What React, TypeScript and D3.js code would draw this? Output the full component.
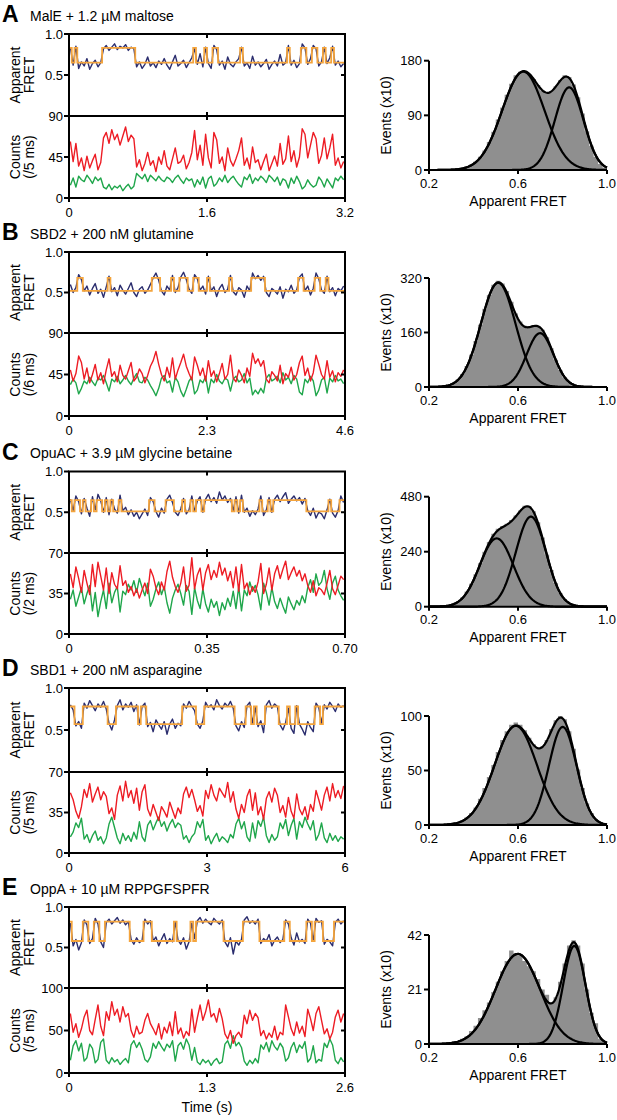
import React from 'react';
import * as d3 from 'd3';

const FONT = '"Liberation Sans", Arial, Helvetica, sans-serif';

// ---------- labels / ticks ----------
const letters = ['A', 'B', 'C', 'D', 'E'];
const titles = [
  'MalE + 1.2 µM maltose',
  'SBD2 + 200 nM glutamine',
  'OpuAC + 3.9 µM glycine betaine',
  'SBD1 + 200 nM asparagine',
  'OppA + 10 µM RPPGFSPFR',
];
const timeMax = [3.2, 4.6, 0.7, 6, 2.6];
const timeTickVals = [[0, 1.6, 3.2], [0, 2.3, 4.6], [0, 0.35, 0.7], [0, 3, 6], [0, 1.3, 2.6]];
const timeTickLabels = [['0', '1.6', '3.2'], ['0', '2.3', '4.6'], ['0', '0.35', '0.70'], ['0', '3', '6'], ['0', '1.3', '2.6']];
const fretTickVals = [0.5, 1.0];
const fretTickLabels = ['0.5', '1.0'];
const countTickVals = [[0, 45, 90], [0, 45, 90], [0, 35, 70], [0, 35, 70], [0, 50, 100]];
const countUnits = ['(/5 ms)', '(/6 ms)', '(/2 ms)', '(/5 ms)', '(/5 ms)'];
const histTickVals = [[0, 90, 180], [0, 160, 320], [0, 240, 480], [0, 50, 100], [0, 21, 42]];
const histXTicks = [0.2, 0.6, 1.0];
const histXLabels = ['0.2', '0.6', '1.0'];

// ---------- Panel A (MalE) ----------
const fretA = [84,62,85,58,66,61,70,57,64,68, 60,65,82,86,80,84,88,81,85,83, 87,80,84,82,60,66,58,63,72,61, 65,59,67,63,70,62,57,66,74,61, 64,68,59,65,71,82,63,76,60,84, 64,58,86,81,62,67,57,72,63,60, 66,70,84,61,65,58,73,62,66,60, 64,69,57,63,67,61,75,62,65,86, 62,68,59,64,88,83,63,70,86,82, 61,66,84,64,71,85,62,67,60,64];
const redA = [62,40,60,35,44,30,46,33,41,48, 31,39,66,72,60,75,64,70,58,68, 78,62,69,65,34,42,30,38,50,36, 41,29,45,37,52,35,31,43,55,38, 40,47,32,39,50,74,42,58,36,70, 44,33,72,64,38,45,30,55,41,35, 43,52,66,36,44,32,56,39,42,31, 40,48,30,38,46,35,60,37,43,68, 40,52,34,45,76,70,44,58,72,65, 38,47,66,43,55,70,36,44,33,40];
const greenA = [14,22,12,24,20,18,25,21,16,23, 19,22,12,10,15,9,13,11,14,8, 12,15,10,13,27,24,21,26,18,25, 22,19,24,20,18,23,21,17,22,25, 20,16,22,19,21,12,20,15,23,11, 21,24,13,16,22,18,25,17,21,24, 19,15,12,23,20,26,16,22,19,24, 21,17,25,22,18,23,14,21,19,11, 22,16,24,18,10,13,20,15,12,14, 23,19,12,21,16,11,22,19,24,20];
const fitTA = [0, 0.032, 0.064, 0.096, 0.384, 0.768, 1.44, 1.472, 1.568, 1.6, 1.664, 1.728, 1.984, 2.016, 2.528, 2.56, 2.688, 2.752, 2.816, 2.88, 2.944, 2.976, 3.04, 3.072];
const fitVA = [83,65,83,65,83,65,83,65,83,65,83,65,83,65,83,65,83,65,83,65,83,65,83,65];
const histA = [0,0,0,0,0,1,2,3,5,9,14,22,32,46,63,83,103,124,142,156,162,163,158,150,140,131,126,130,138,148,156,153,141,120,93,64,40,22,10,4];
const gAmpA = [162, 136];
const gMuA = [0.624, 0.83];
const gSdA = [0.095, 0.064];

// ---------- Panel B (SBD2) ----------
const fretB = [60,50,56,72,66,52,58,47,55,61, 49,54,44,57,70,51,56,46,59,53, 48,55,62,50,45,54,57,49,53,60, 68,74,65,52,47,58,53,71,50,56, 69,75,66,54,49,72,67,53,58,48, 70,52,57,45,55,60,50,54,71,51, 47,56,53,44,58,52,74,67,71,65, 70,50,45,55,52,48,57,43,54,51, 59,49,53,69,73,52,58,47,55,74, 67,53,49,70,51,56,46,55,52,58];
const redB = [50,38,46,65,58,40,52,36,45,56, 39,47,35,50,62,43,48,37,55,44, 40,49,58,38,42,51,46,36,44,54, 60,70,56,45,38,53,42,63,40,50, 58,67,54,46,39,64,55,44,52,38, 60,43,49,37,46,57,40,45,66,41, 37,50,44,36,52,43,68,57,62,54, 60,40,36,48,44,38,55,35,46,42, 53,39,45,58,65,44,52,38,47,66, 56,45,40,60,42,49,37,47,43,50];
const greenB = [34,40,36,24,30,38,35,42,37,33, 41,39,44,36,27,40,37,43,35,39, 44,38,34,41,46,37,36,42,39,33, 28,22,30,41,44,36,38,26,42,37, 27,21,29,38,42,24,28,39,36,43, 25,40,36,45,38,35,41,39,27,40, 43,37,39,46,36,41,23,28,24,30, 25,41,45,38,40,43,36,47,39,42, 35,44,40,26,23,40,36,43,38,22, 28,39,42,25,41,37,44,38,40,35];
const fitTB = [0, 0.138, 0.23, 0.644, 0.69, 1.38, 1.518, 1.702, 1.748, 1.84, 1.978, 2.07, 2.162, 2.3, 2.346, 2.668, 2.714, 3.036, 3.266, 3.818, 3.91, 4.094, 4.186, 4.278, 4.324];
const fitVB = [52,68,52,68,52,68,52,68,52,68,52,68,52,68,52,68,52,68,52,68,52,68,52,68,52];
const histB = [0,1,1,3,6,12,22,38,62,95,135,183,230,270,300,312,304,282,250,216,192,180,178,181,179,168,146,114,80,50,28,14,6,3,1,0,0,0,0,0];
const gAmpB = [306, 158];
const gMuB = [0.511, 0.699];
const gSdB = [0.078, 0.06];

// ---------- Panel C (OpuAC) ----------
const fretC = [66,52,70,63,48,67,55,45,69,53, 72,64,50,68,47,66,54,49,71,52, 56,47,53,45,50,42,48,54,46,68, 63,51,44,55,49,66,71,62,50,46, 54,67,48,53,70,51,64,69,50,66, 72,63,68,61,75,65,70,62,67,52, 69,49,71,50,55,45,52,47,54,70, 46,53,68,50,66,71,63,69,74,61, 66,70,64,68,60,67,52,46,55,43, 50,48,42,53,66,49,44,52,70,62];
const redC = [52,40,58,48,36,55,44,34,60,41, 62,50,38,57,35,53,43,39,59,42, 46,36,41,33,39,31,38,44,35,56, 50,40,34,45,38,54,63,49,41,36, 44,58,37,42,66,39,51,57,38,53, 60,47,55,49,62,51,57,46,54,40, 58,37,60,39,44,34,41,36,45,61, 35,43,57,38,52,59,48,56,63,47, 53,58,50,55,46,52,42,36,46,33, 40,38,34,44,55,39,34,42,50,47];
const greenC = [30,38,24,32,40,26,35,42,20,36, 15,28,38,22,44,27,36,41,19,37, 34,43,38,46,36,48,40,33,44,24, 30,39,45,34,41,27,18,31,38,43, 35,25,42,37,17,40,29,22,39,26, 19,30,23,28,16,27,21,31,24,37, 22,41,20,38,33,45,37,42,34,21, 44,36,25,40,28,22,31,24,18,32, 26,21,29,25,33,27,40,47,36,52, 42,45,55,39,30,44,50,38,33,29];
const fitTC = [0, 0.007, 0.014, 0.028, 0.035, 0.042, 0.056, 0.063, 0.07, 0.084, 0.091, 0.098, 0.105, 0.112, 0.126, 0.133, 0.203, 0.217, 0.245, 0.266, 0.287, 0.294, 0.308, 0.315, 0.322, 0.336, 0.343, 0.413, 0.42, 0.427, 0.434, 0.441, 0.483, 0.49, 0.504, 0.511, 0.518, 0.602, 0.658, 0.665, 0.686];
const fitVC = [65,51,65,51,65,51,65,51,65,51,65,51,65,51,65,51,65,51,65,51,65,51,65,51,65,51,65,51,65,51,65,51,65,51,65,51,65,51,65,51,65];
const histC = [0,0,1,2,5,12,23,40,66,100,142,190,240,282,318,340,352,362,378,398,420,440,438,416,368,302,228,160,103,60,33,16,7,3,1,0,0,0,0,0];
const gAmpC = [298, 393];
const gMuC = [0.504, 0.658];
const gSdC = [0.0755, 0.0678];

// ---------- Panel D (SBD1) ----------
const fretD = [80,74,55,60,52,82,76,85,79,73, 81,77,84,75,58,50,62,79,86,74, 81,77,83,72,80,56,78,82,54,59, 48,62,56,51,60,45,57,63,52,58, 55,81,76,84,78,73,57,52,61,83, 77,80,74,86,79,75,82,78,84,76, 55,49,60,53,79,83,58,77,54,61, 47,80,85,76,81,78,56,50,59,76, 52,46,79,57,51,44,60,53,48,82, 77,58,80,75,83,78,72,81,77,79];
const redD = [52,46,36,30,40,55,48,60,44,51, 57,46,53,49,34,39,29,50,58,45, 62,48,54,43,56,37,53,59,38,32, 42,35,28,40,36,31,44,37,30,39, 34,51,57,48,55,46,36,41,32,54, 47,59,50,45,56,52,48,61,44,53, 38,30,42,35,49,55,37,52,33,40, 29,47,53,44,56,50,35,41,31,48, 36,30,51,38,33,40,29,42,36,54, 46,37,50,57,45,60,48,54,47,58];
const greenD = [14,18,26,22,30,12,16,9,15,19, 11,14,8,13,25,31,22,13,8,17, 11,15,10,18,12,27,14,10,24,28, 20,26,31,23,27,19,25,29,22,26, 24,12,15,9,14,17,27,22,29,11, 15,8,13,17,10,14,12,9,16,13, 25,30,21,27,14,10,26,13,28,23, 31,15,9,16,11,14,26,21,29,15, 24,30,12,27,22,31,25,20,28,11, 16,26,13,9,17,11,15,10,14,12];
const fitTD = [0, 0.12, 0.3, 0.84, 1.02, 1.5, 1.56, 1.68, 2.46, 2.76, 2.94, 3.6, 3.84, 3.96, 4.02, 4.08, 4.26, 4.56, 4.74, 4.8, 4.92, 4.98, 5.34, 5.46, 5.52];
const fitVD = [78,57,78,57,78,57,78,57,78,57,78,57,78,57,78,57,78,57,78,57,78,57,78,57,78];
const histD = [0,0,0,0,1,1,2,4,7,11,16,24,34,44,55,67,78,86,92,94,92,87,80,74,70,72,78,88,96,100,97,86,70,51,34,20,11,5,2,1];
const gAmpD = [91, 90];
const gMuD = [0.59, 0.801];
const gSdD = [0.095, 0.062];

// ---------- Panel E (OppA) ----------
const fretE = [80,52,60,47,56,84,78,55,61,86, 79,57,50,81,85,79,83,87,80,84, 78,82,60,54,62,56,59,85,79,83, 58,63,52,60,67,55,61,57,82,59, 54,62,48,57,80,61,83,87,80,85, 81,78,86,82,79,84,57,51,62,42, 58,53,60,84,88,80,83,79,85,55, 61,58,66,52,59,63,56,60,84,79, 62,53,68,57,60,55,85,80,58,86, 81,83,54,60,57,52,81,85,79,83];
const redE = [70,48,58,42,52,66,74,50,45,63, 80,55,44,72,62,84,68,75,60,78, 66,70,50,42,55,46,48,62,70,58, 52,45,58,40,54,47,60,44,72,46, 53,41,49,44,75,48,65,80,62,72, 86,66,70,60,76,64,46,40,50,35, 44,48,42,68,58,74,62,70,65,44, 50,40,47,42,55,39,48,45,80,66, 52,44,60,47,55,43,75,64,50,70, 78,62,46,52,40,48,66,74,60,70];
const greenE = [15,32,38,26,35,14,18,34,29,12, 16,36,40,15,11,18,13,16,10,14, 17,12,33,38,30,36,28,16,13,19, 35,29,37,31,26,34,30,38,14,32, 36,28,40,33,15,30,13,10,16,12, 15,9,14,17,11,13,34,38,29,44, 32,36,30,14,9,15,11,17,12,33, 28,36,25,38,31,27,35,30,14,18, 30,36,24,33,29,37,13,17,32,12, 16,14,35,30,40,33,15,11,18,13];
const fitTE = [0, 0.026, 0.13, 0.182, 0.234, 0.286, 0.338, 0.572, 0.702, 0.78, 0.988, 1.014, 1.144, 1.17, 1.196, 1.456, 1.638, 1.794, 2.028, 2.08, 2.236, 2.288, 2.314, 2.392, 2.496];
const fitVE = [82,58,82,58,82,58,82,58,82,58,82,58,82,58,82,58,82,58,82,58,82,58,82,58,82];
const histE = [0,0,0,0,0,0,1,2,3,5,7,10,13,16,20,24,28,32,36,35,34,32,30,28,25,21,19,16,18,24,31,38,40,38,31,21,12,8,2,1];
const gAmpE = [34.7, 37.8];
const gMuE = [0.599, 0.853];
const gSdE = [0.1, 0.05];

const fretData = [fretA, fretB, fretC, fretD, fretE];
const redData = [redA, redB, redC, redD, redE];
const greenData = [greenA, greenB, greenC, greenD, greenE];
const fitTData = [fitTA, fitTB, fitTC, fitTD, fitTE];
const fitVData = [fitVA, fitVB, fitVC, fitVD, fitVE];
const histData = [histA, histB, histC, histD, histE];
const gAmpData = [gAmpA, gAmpB, gAmpC, gAmpD, gAmpE];
const gMuData = [gMuA, gMuB, gMuC, gMuD, gMuE];
const gSdData = [gSdA, gSdB, gSdC, gSdD, gSdE];

// ---------- layout ----------
const X0 = 69, X1 = 345;
const HX0 = 429, HX1 = 607;
const traceTop = [34, 252, 471.5, 688, 907];
const traceMid = [116, 333, 553, 772, 988];
const traceBot = [198, 416, 634, 853, 1073];
const histTop = [60.7, 278, 496.7, 716, 935];
const histBot = [170, 387, 606.7, 825, 1044];

const NAVY = '#2b2d6e';
const ORANGE = '#f4a43c';
const RED = '#ed1c24';
const GREEN = '#1fa64b';
const BAR = '#8f8f8f';

function Panel({ i }: { i: number }) {
  const top = traceTop[i], mid = traceMid[i], bot = traceBot[i];
  const T = timeMax[i];
  const x = d3.scaleLinear().domain([0, T]).range([X0, X1]);
  const yF = d3.scaleLinear().domain([0, 1]).range([mid, top]);
  const cTicks = countTickVals[i];
  const yC = d3.scaleLinear().domain([0, cTicks[2]]).range([bot, mid]);
  const fret = fretData[i], red = redData[i], green = greenData[i];
  const dt = T / fret.length;
  const tOf = (k: number) => (k + 0.5) * dt;
  const fretPath = d3.line<number>().x((_, k) => x(tOf(k))).y((d) => yF(d / 100))(fret) || '';
  const redPath = d3.line<number>().x((_, k) => x(tOf(k))).y((d) => yC(d))(red) || '';
  const greenPath = d3.line<number>().x((_, k) => x(tOf(k))).y((d) => yC(d))(green) || '';
  const fT = fitTData[i], fV = fitVData[i];
  const fitPts: [number, number][] = fT.map((t, k) => [t, fV[k] / 100] as [number, number]);
  fitPts.push([T, fV[fV.length - 1] / 100]);
  const fitPath = d3.line<[number, number]>().curve(d3.curveStepAfter).x((d) => x(d[0])).y((d) => yF(d[1]))(fitPts) || '';

  // histogram
  const ht = histTop[i], hb = histBot[i];
  const hx = d3.scaleLinear().domain([0.2, 1.0]).range([HX0, HX1]);
  const hTicks = histTickVals[i];
  const hy = d3.scaleLinear().domain([0, hTicks[2]]).range([hb, ht]);
  const bins = histData[i];
  const bw = 0.8 / bins.length;
  const binPts: [number, number][] = bins.map((v, k) => [0.2 + k * bw, v] as [number, number]);
  binPts.push([1.0, bins[bins.length - 1]]);
  const barArea = d3.area<[number, number]>().curve(d3.curveStepAfter)
    .x((d) => hx(d[0])).y0(hb).y1((d) => hy(d[1]))(binPts) || '';
  const amp = gAmpData[i], mu = gMuData[i], sd = gSdData[i];
  const xs = d3.range(0, 201).map((k) => 0.2 + k * 0.004);
  const g = (j: number, v: number) => amp[j] * Math.exp(-((v - mu[j]) ** 2) / (2 * sd[j] ** 2));
  const compPath = (j: number) => d3.line<number>().x((v) => hx(v)).y((v) => hy(g(j, v)))(xs) || '';
  const sumPath = d3.line<number>().x((v) => hx(v)).y((v) => hy(g(0, v) + g(1, v)))(xs) || '';

  const xc = x(T / 2);
  const tickFs = 13;
  const labFs = 14;

  return (
    <g>
      <defs>
        <clipPath id={`cf${i}`}><rect x={X0} y={top} width={X1 - X0} height={mid - top} /></clipPath>
        <clipPath id={`cc${i}`}><rect x={X0} y={mid} width={X1 - X0} height={bot - mid} /></clipPath>
      </defs>
      <text x={2} y={top - 12} fontSize={23} fontWeight="bold" fill="#000">{letters[i]}</text>
      <text x={30} y={top - 13.5} fontSize={14} fill="#000">{titles[i]}</text>

      <g clipPath={`url(#cf${i})`}>
        <path d={fretPath} fill="none" stroke={NAVY} strokeWidth={1.4} strokeLinejoin="round" />
        <path d={fitPath} fill="none" stroke={ORANGE} strokeWidth={1.8} />
      </g>
      <g clipPath={`url(#cc${i})`}>
        <path d={greenPath} fill="none" stroke={GREEN} strokeWidth={1.4} strokeLinejoin="round" />
        <path d={redPath} fill="none" stroke={RED} strokeWidth={1.4} strokeLinejoin="round" />
      </g>

      <rect x={X0} y={top} width={X1 - X0} height={bot - top} fill="none" stroke="#000" strokeWidth={2} />
      <line x1={X0} x2={X1} y1={mid} y2={mid} stroke="#000" strokeWidth={2} />
      {fretTickVals.map((v) => (
        <line key={`lf${v}`} x1={X0 - 5} x2={X0} y1={yF(v)} y2={yF(v)} stroke="#000" strokeWidth={2} />
      ))}
      {cTicks.map((v) => (
        <line key={`lc${v}`} x1={X0 - 5} x2={X0} y1={yC(v)} y2={yC(v)} stroke="#000" strokeWidth={2} />
      ))}
      <line x1={X1 - 4} x2={X1} y1={yF(0.5)} y2={yF(0.5)} stroke="#000" strokeWidth={2} />
      <line x1={X1 - 4} x2={X1} y1={yC(cTicks[1])} y2={yC(cTicks[1])} stroke="#000" strokeWidth={2} />
      <line x1={xc} x2={xc} y1={top} y2={top + 4} stroke="#000" strokeWidth={2} />
      <line x1={xc} x2={xc} y1={mid - 4} y2={mid + 4} stroke="#000" strokeWidth={2} />
      {timeTickVals[i].map((v) => (
        <line key={`bt${v}`} x1={x(v)} x2={x(v)} y1={bot} y2={bot + 4} stroke="#000" strokeWidth={2} />
      ))}
      {fretTickVals.map((v, k) => (
        <text key={`tf${v}`} x={X0 - 6} y={yF(v)} dy="0.35em" textAnchor="end" fontSize={tickFs}>{fretTickLabels[k]}</text>
      ))}
      {cTicks.map((v) => (
        <text key={`tc${v}`} x={X0 - 6} y={yC(v)} dy="0.35em" textAnchor="end" fontSize={tickFs}>{String(v)}</text>
      ))}
      {timeTickVals[i].map((v, k) => (
        <text key={`tt${v}`} x={x(v)} y={bot + 18.5} textAnchor="middle" fontSize={tickFs}>{timeTickLabels[i][k]}</text>
      ))}
      <g transform={`translate(20,${(top + mid) / 2}) rotate(-90)`}>
        <text textAnchor="middle" fontSize={labFs}>Apparent</text>
      </g>
      <g transform={`translate(34,${(top + mid) / 2}) rotate(-90)`}>
        <text textAnchor="middle" fontSize={labFs}>FRET</text>
      </g>
      <g transform={`translate(20,${(mid + bot) / 2}) rotate(-90)`}>
        <text textAnchor="middle" fontSize={labFs}>Counts</text>
      </g>
      <g transform={`translate(34,${(mid + bot) / 2}) rotate(-90)`}>
        <text textAnchor="middle" fontSize={labFs}>{countUnits[i]}</text>
      </g>
      {i === 4 && (
        <text x={xc} y={bot + 39} textAnchor="middle" fontSize={labFs}>Time (s)</text>
      )}

      <path d={barArea} fill={BAR} stroke="none" />
      <path d={compPath(0)} fill="none" stroke="#000" strokeWidth={2.2} />
      <path d={compPath(1)} fill="none" stroke="#000" strokeWidth={2.2} />
      <path d={sumPath} fill="none" stroke="#000" strokeWidth={2.2} />
      <line x1={HX0} x2={HX0} y1={ht} y2={hb} stroke="#000" strokeWidth={2} />
      <line x1={HX0} x2={HX1} y1={hb} y2={hb} stroke="#000" strokeWidth={2} />
      {hTicks.map((v) => (
        <g key={`hy${v}`}>
          <line x1={HX0 - 5} x2={HX0} y1={hy(v)} y2={hy(v)} stroke="#000" strokeWidth={2} />
          <text x={HX0 - 7} y={hy(v)} dy="0.35em" textAnchor="end" fontSize={tickFs}>{String(v)}</text>
        </g>
      ))}
      {histXTicks.map((v, k) => (
        <g key={`hx${v}`}>
          <line x1={hx(v)} x2={hx(v)} y1={hb} y2={hb + 4} stroke="#000" strokeWidth={2} />
          <text x={hx(v)} y={hb + 17.5} textAnchor="middle" fontSize={tickFs}>{histXLabels[k]}</text>
        </g>
      ))}
      <text x={(HX0 + HX1) / 2} y={hb + 35.5} textAnchor="middle" fontSize={labFs}>Apparent FRET</text>
      <g transform={`translate(391,${(ht + hb) / 2}) rotate(-90)`}>
        <text textAnchor="middle" fontSize={labFs}>Events (x10)</text>
      </g>
    </g>
  );
}

export default function App() {
  return (
    <svg width={617} height={1120} style={{ position: 'absolute', left: 0, top: 0, background: '#fff' }}
      fontFamily={FONT}>
      <rect width={617} height={1120} fill="#fff" />
      {letters.map((_, i) => <Panel key={i} i={i} />)}
    </svg>
  );
}
